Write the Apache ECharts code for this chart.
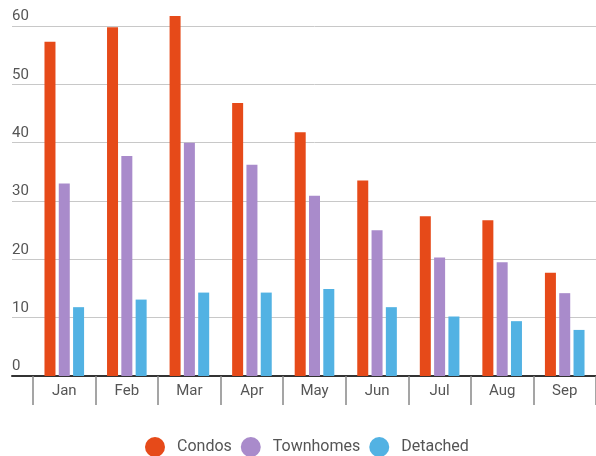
<!DOCTYPE html>
<html>
<head>
<meta charset="utf-8">
<script src="https://cdn.jsdelivr.net/npm/echarts@6/dist/echarts.min.js"></script>
<style>
  html, body { margin: 0; padding: 0; background: #fff; }
  #chart { width: 596px; height: 456px; }
</style>
</head>
<body>
<div id="chart"></div>
<script>
var months = ["Jan", "Feb", "Mar", "Apr", "May", "Jun", "Jul", "Aug", "Sep"];
var condos = [57.3, 59.8, 61.7, 46.8, 41.8, 33.5, 27.4, 26.7, 17.7];
var townhomes = [33.0, 37.7, 40.0, 36.2, 30.9, 25.0, 20.3, 19.5, 14.2];
var detached = [11.8, 13.1, 14.3, 14.3, 14.9, 11.8, 10.2, 9.4, 7.9];
var yTicks = [0, 60, 10]; // min, max, interval

var myChart = echarts.init(document.getElementById("chart"));

var labelColor = '#555';
var font = 'Roboto';

var option = {
    animation: false,
    color: ['#e64a19', '#a98bcb', '#52b2e3'],
    legend: {
        left: 140,
        top: 432,
        icon: 'circle',
        itemWidth: 20,
        itemHeight: 20,
        itemGap: 9,
        textStyle: { color: labelColor, fontSize: 16, fontFamily: font, padding: [0, 0, 0, 7] },
        data: ['Condos', 'Townhomes', 'Detached']
    },
    // grid 0 is the small strip left of the first category, holding the y labels
    grid: [
        { left: 12, width: 21, top: 26, bottom: 80 },
        { left: 33, width: 572, top: 26, bottom: 80 }
    ],
    xAxis: [
        {
            gridIndex: 0, type: 'value', min: 0, max: 1,
            axisLine: { show: true, lineStyle: { color: '#333', width: 2 } },
            axisTick: { show: false }, axisLabel: { show: false }, splitLine: { show: false }
        },
        {
            gridIndex: 1, type: 'category', data: months,
            axisLine: { show: true, lineStyle: { color: '#333', width: 2 } },
            axisTick: { show: true, length: 29, lineStyle: { color: '#888', width: 1.5 } },
            axisLabel: { color: labelColor, fontSize: 15, fontFamily: font, margin: 8 }
        }
    ],
    yAxis: [
        {
            gridIndex: 0, type: 'value', min: yTicks[0], max: yTicks[1], interval: yTicks[2],
            axisLine: { show: false }, axisTick: { show: false },
            axisLabel: {
                inside: true, margin: 0, verticalAlign: 'bottom', align: 'left',
                padding: [0, 0, 2, 0],
                color: labelColor, fontSize: 15, fontFamily: font
            },
            splitLine: { lineStyle: { color: '#c8c8c8', width: 1 } }
        },
        {
            gridIndex: 1, type: 'value', min: yTicks[0], max: yTicks[1], interval: yTicks[2],
            axisLine: { show: false }, axisTick: { show: false }, axisLabel: { show: false },
            splitLine: { lineStyle: { color: '#c8c8c8', width: 1 } }
        }
    ],
    series: [
        { name: 'Condos', type: 'bar', xAxisIndex: 1, yAxisIndex: 1, barWidth: 11, barGap: '30%', clip: false, data: condos },
        { name: 'Townhomes', type: 'bar', xAxisIndex: 1, yAxisIndex: 1, barWidth: 11, barGap: '30%', clip: false, data: townhomes },
        { name: 'Detached', type: 'bar', xAxisIndex: 1, yAxisIndex: 1, barWidth: 11, barGap: '30%', clip: false, data: detached }
    ]
};

myChart.setOption(option);
</script>
</body>
</html>
